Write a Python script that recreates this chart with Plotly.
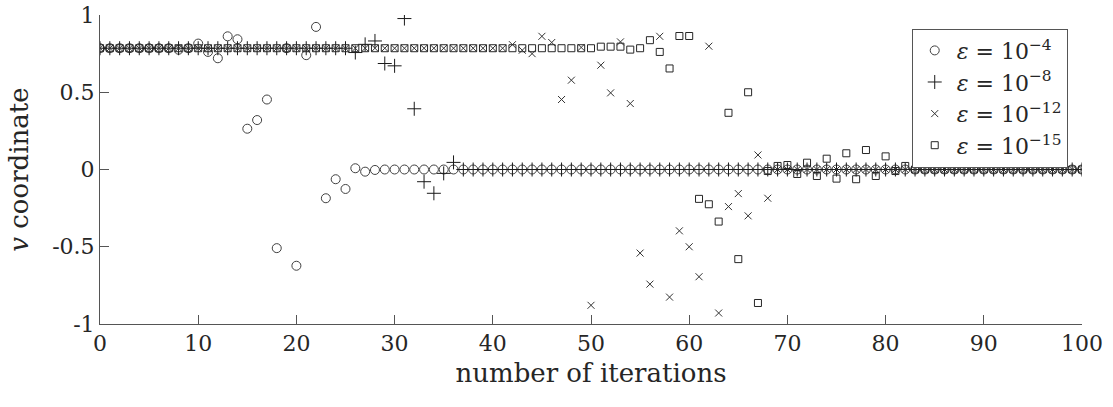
import plotly.graph_objects as go

iterations = list(range(101))

v_eps4 = [
    0.785, 0.785, 0.785, 0.785, 0.785, 0.785, 0.785, 0.785, 0.775, 0.785,
    0.815, 0.761, 0.72, 0.862, 0.843, 0.264, 0.32, 0.453, -0.509, 0.785,
    -0.623, 0.74, 0.923, -0.186, -0.063, -0.126, 0.008, -0.014, -0.003, 0.0,
    0.0, 0.0, 0.0, 0.0, 0.0, 0.0, 0.0, 0.0, 0.0, 0.0,
    0.0, 0.0, 0.0, 0.0, 0.0, 0.0, 0.0, 0.0, 0.0, 0.0,
    0.0, 0.0, 0.0, 0.0, 0.0, 0.0, 0.0, 0.0, 0.0, 0.0,
    0.0, 0.0, 0.0, 0.0, 0.0, 0.0, 0.0, 0.0, 0.0, 0.0,
    0.0, 0.0, 0.0, 0.0, 0.0, 0.0, 0.0, 0.0, 0.0, 0.0,
    0.0, 0.0, 0.0, 0.0, 0.0, 0.0, 0.0, 0.0, 0.0, 0.0,
    0.0, 0.0, 0.0, 0.0, 0.0, 0.0, 0.0, 0.0, 0.0, 0.0,
    0.0,
]

v_eps8 = [
    0.785, 0.785, 0.785, 0.785, 0.785, 0.785, 0.785, 0.785, 0.785, 0.785,
    0.785, 0.785, 0.785, 0.785, 0.785, 0.785, 0.785, 0.785, 0.785, 0.785,
    0.785, 0.785, 0.785, 0.785, 0.785, 0.785, 0.757, 0.81, 0.832, 0.686,
    0.671, 0.977, 0.393, -0.079, -0.154, -0.025, 0.046, 0.0, 0.0, 0.0,
    0.0, 0.0, 0.0, 0.0, 0.0, 0.0, 0.0, 0.0, 0.0, 0.0,
    0.0, 0.0, 0.0, 0.0, 0.0, 0.0, 0.0, 0.0, 0.0, 0.0,
    0.0, 0.0, 0.0, 0.0, 0.0, 0.0, 0.0, 0.0, 0.0, 0.0,
    0.0, 0.0, 0.0, 0.0, 0.0, 0.0, 0.0, 0.0, 0.0, 0.0,
    0.0, 0.0, 0.0, 0.0, 0.0, 0.0, 0.0, 0.0, 0.0, 0.0,
    0.0, 0.0, 0.0, 0.0, 0.0, 0.0, 0.0, 0.0, 0.0, 0.0,
    0.0,
]

v_eps12 = [
    0.785, 0.785, 0.785, 0.785, 0.785, 0.785, 0.785, 0.785, 0.785, 0.785,
    0.785, 0.785, 0.785, 0.785, 0.785, 0.785, 0.785, 0.785, 0.785, 0.785,
    0.785, 0.785, 0.785, 0.785, 0.785, 0.785, 0.785, 0.785, 0.785, 0.785,
    0.785, 0.785, 0.785, 0.785, 0.785, 0.785, 0.785, 0.785, 0.785, 0.785,
    0.785, 0.785, 0.808, 0.772, 0.75, 0.862, 0.822, 0.453, 0.578, 0.79,
    -0.879, 0.675, 0.496, 0.826, 0.427, -0.541, -0.742, 0.862, -0.826, -0.397,
    -0.5, -0.694, 0.798, -0.929, -0.24, -0.156, -0.3, 0.094, -0.186, 0.0,
    0.0, 0.0, 0.0, 0.0, 0.0, 0.0, 0.0, 0.0, 0.0, 0.0,
    0.0, 0.0, 0.0, 0.0, 0.0, 0.0, 0.0, 0.0, 0.0, 0.0,
    0.0, 0.0, 0.0, 0.0, 0.0, 0.0, 0.0, 0.0, 0.0, 0.0,
    0.0,
]

v_eps15 = [
    0.785, 0.785, 0.785, 0.785, 0.785, 0.785, 0.785, 0.785, 0.785, 0.785,
    0.785, 0.785, 0.785, 0.785, 0.785, 0.785, 0.785, 0.785, 0.785, 0.785,
    0.785, 0.785, 0.785, 0.785, 0.785, 0.785, 0.785, 0.785, 0.785, 0.785,
    0.785, 0.785, 0.785, 0.785, 0.785, 0.785, 0.785, 0.785, 0.785, 0.785,
    0.785, 0.785, 0.785, 0.785, 0.785, 0.785, 0.785, 0.785, 0.785, 0.785,
    0.785, 0.795, 0.795, 0.795, 0.776, 0.785, 0.837, 0.761, 0.654, 0.864,
    0.864, -0.19, -0.225, -0.337, 0.367, -0.58, 0.5, -0.864, -0.01, 0.023,
    0.029, -0.029, 0.044, -0.042, 0.07, -0.059, 0.105, -0.063, 0.126, -0.042,
    0.085, -0.01, 0.023, 0.0, 0.0, 0.0, 0.0, 0.0, 0.0, 0.0,
    0.0, 0.0, 0.0, 0.0, 0.0, 0.0, 0.0, 0.0, 0.0, 0.0,
    0.0,
]

series_names = [
    "<i>ε</i> = 10<sup>−4</sup>",
    "<i>ε</i> = 10<sup>−8</sup>",
    "<i>ε</i> = 10<sup>−12</sup>",
    "<i>ε</i> = 10<sup>−15</sup>",
]

x_tick_vals = [0, 10, 20, 30, 40, 50, 60, 70, 80, 90, 100]
y_tick_vals = [-1, -0.5, 0, 0.5, 1]
y_tick_text = ["-1", "-0.5", "0", "0.5", "1"]

FONT = "DejaVu Serif, Liberation Serif, serif"
INK = "#262626"

fig = go.Figure()
styles = [
    dict(symbol="circle-open", size=9, color="#404040"),
    dict(symbol="cross-thin-open", size=10, color="#1a1a1a"),
    dict(symbol="x-thin-open", size=7, color="#333333"),
    dict(symbol="square-open", size=7, color="#262626"),
]
for vals, name, st in zip([v_eps4, v_eps8, v_eps12, v_eps15], series_names, styles):
    fig.add_trace(go.Scatter(
        x=iterations, y=vals, mode="markers", name=name,
        marker=dict(symbol=st["symbol"], size=st["size"], color=st["color"],
                    line=dict(width=1, color=st["color"])),
    ))

axis_common = dict(
    showline=True, linecolor="#555555", linewidth=1,
    ticks="inside", ticklen=9, tickwidth=1, tickcolor="#555555",
    showgrid=False, zeroline=False, automargin=False,
    tickfont=dict(family=FONT, size=22, color=INK),
)

fig.update_layout(
    width=1113, height=407,
    margin=dict(l=100, r=31, t=15, b=83, autoexpand=False),
    plot_bgcolor="white", paper_bgcolor="white",
    font=dict(family=FONT, color=INK),
    xaxis=dict(range=[0, 100], tickvals=x_tick_vals,
               title=dict(text="number of iterations", font=dict(family=FONT, size=26, color=INK), standoff=8),
               **axis_common),
    yaxis=dict(range=[-1, 1], tickvals=y_tick_vals, ticktext=y_tick_text,
               title=dict(text="<i>v</i> coordinate", font=dict(family=FONT, size=26, color=INK), standoff=16),
               **axis_common),
    legend=dict(x=0.8266, y=0.956, xanchor="left", yanchor="top",
                bordercolor="#555555", borderwidth=1, bgcolor="white",
                font=dict(family=FONT, size=22, color=INK),
                itemwidth=34, tracegroupgap=0),
    showlegend=True,
)

fig.write_html("out.html")
